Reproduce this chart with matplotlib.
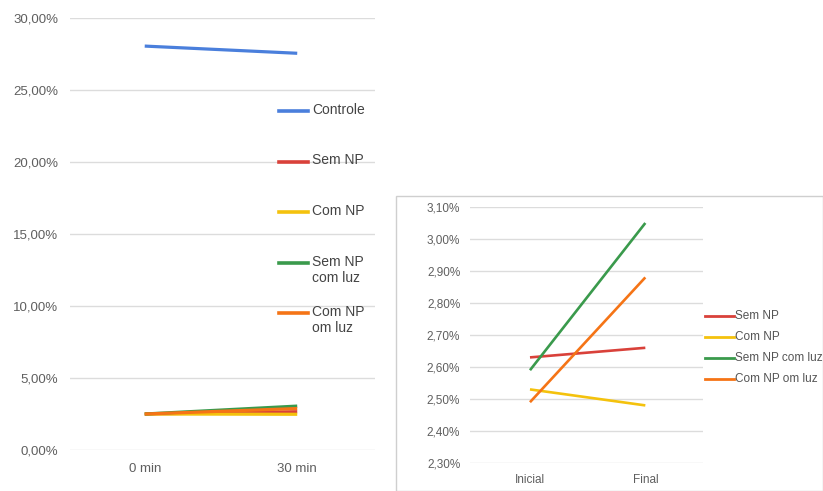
#!/usr/bin/env python3
"""Two line charts: absorbance change over time (left) and zoom without control (right)."""

import matplotlib

matplotlib.use("Agg")
import matplotlib.pyplot as plt
from matplotlib.lines import Line2D
from matplotlib.patches import Rectangle
from matplotlib.ticker import FuncFormatter, MultipleLocator

plt.rcParams["font.family"] = ["Liberation Sans", "DejaVu Sans"]

# left chart data (percent)
left_x = ["0 min", "30 min"]
left_names = ["Controle", "Sem NP", "Com NP", "Sem NP\ncom luz", "Com NP\nom luz"]
controle = [28.05, 27.55]
sem_np = [2.50, 2.66]
com_np = [2.50, 2.48]
sem_np_luz = [2.50, 3.05]
com_np_luz = [2.50, 2.88]

# right chart data (percent)
right_x = ["Inicial", "Final"]
right_names = ["Sem NP", "Com NP", "Sem NP com luz", "Com NP om luz"]
r_sem_np = [2.63, 2.66]
r_com_np = [2.53, 2.48]
r_sem_np_luz = [2.59, 3.05]
r_com_np_luz = [2.49, 2.88]

BLUE = "#4a7fdc"
RED = "#d9413a"
YELLOW = "#f4c20d"
GREEN = "#3a9a4c"
ORANGE = "#f57416"
GRID = "#dcdcdc"
TICK = "#5f5f5f"


def pct(v, _pos):
    return f"{v:.2f}%".replace(".", ",")


W, H = 823, 491
fig = plt.figure(figsize=(W / 100, H / 100), dpi=100)
fig.patch.set_facecolor("white")


def fx(px):
    return px / W


def fy(py):
    return 1 - py / H


def style(ax, ylim, step, fs, ypad):
    ax.set_ylim(*ylim)
    ax.yaxis.set_major_locator(MultipleLocator(step))
    ax.yaxis.set_major_formatter(FuncFormatter(pct))
    ax.grid(True, axis="y", color=GRID, lw=1.0)
    ax.set_axisbelow(True)
    ax.patch.set_alpha(0)
    for s in ax.spines.values():
        s.set_visible(False)
    ax.tick_params(length=0, colors=TICK, labelsize=fs)
    ax.tick_params(axis="y", pad=ypad)
    ax.tick_params(axis="x", pad=9)


# ---- left chart ----
ax1 = fig.add_axes([fx(70), fy(450), fx(375) - fx(70), fy(18) - fy(450)])
style(ax1, (0, 30), 5, 9.5, 8.5)
ax1.set_xlim(-0.49, 1.51)
ax1.set_xticks(range(len(left_x)))
ax1.set_xticklabels(left_x)
xs = range(len(left_x))
left_series = [controle, sem_np, com_np, sem_np_luz, com_np_luz]
left_colors = [BLUE, RED, YELLOW, GREEN, ORANGE]
for vals, c in zip(left_series, left_colors):
    ax1.plot(xs, vals, color=c, lw=2.3, solid_capstyle="butt")

# left legend (stacked on the right side of the plot)
for i, (name, c) in enumerate(zip(left_names, left_colors)):
    y = 111 + i * 50.5
    fig.add_artist(Line2D([fx(279), fx(308)], [fy(y), fy(y)], color=c, lw=2.6,
                          transform=fig.transFigure))
    fig.text(fx(312), fy(y - 8), name, color="#444444", fontsize=10, va="top",
             ha="left", linespacing=1.2)

# ---- right chart panel ----
fig.add_artist(Rectangle((fx(396), 0), 1 - fx(396), fy(196), transform=fig.transFigure,
                         facecolor="white", edgecolor="#cfcfcf", lw=1.0, zorder=-5))
ax2 = fig.add_axes([fx(470), fy(463), fx(703) - fx(470), fy(207) - fy(463)])
style(ax2, (2.30, 3.10), 0.10, 8.5, 7)
ax2.set_xlim(-0.52, 1.50)
ax2.set_xticks(range(len(right_x)))
ax2.set_xticklabels(right_x)
ax2.tick_params(axis="x", pad=8)
right_series = [r_sem_np, r_com_np, r_sem_np_luz, r_com_np_luz]
right_colors = [RED, YELLOW, GREEN, ORANGE]
xs2 = range(len(right_x))
for vals, c in zip(right_series, right_colors):
    ax2.plot(xs2, vals, color=c, lw=1.9, solid_capstyle="butt")

for i, (name, c) in enumerate(zip(right_names, right_colors)):
    y = 316 + i * 21
    fig.add_artist(Line2D([fx(705), fx(734)], [fy(y), fy(y)], color=c, lw=2.0,
                          transform=fig.transFigure))
    fig.text(fx(735), fy(y), name, color="#555555", fontsize=8.5, va="center",
             ha="left")

fig.savefig("out.png", dpi=100, facecolor="white")
plt.close(fig)
